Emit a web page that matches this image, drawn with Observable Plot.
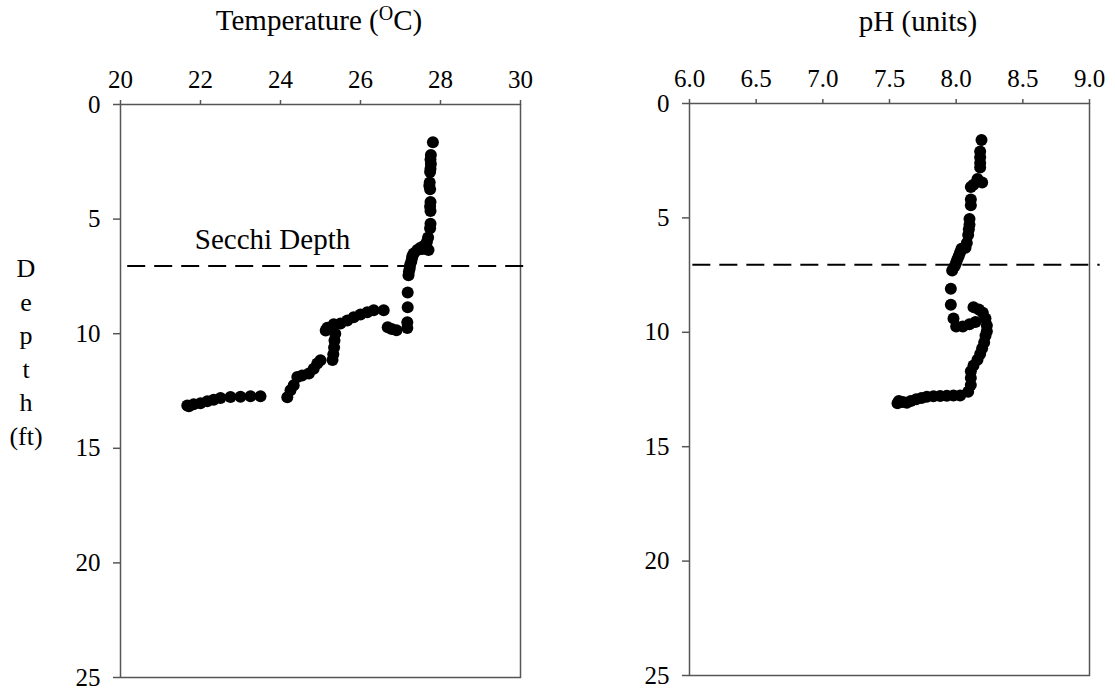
<!DOCTYPE html>
<html>
<head>
<meta charset="utf-8">
<script src="https://cdn.jsdelivr.net/npm/d3@7"></script>
<script src="https://cdn.jsdelivr.net/npm/@observablehq/plot@0.6"></script>
<style>
  body { margin: 0; background: #fff; }
  #wrap { position: relative; width: 1115px; height: 693px; overflow: hidden; background: #fff; }
  #wrap > svg, #wrap > figure { position: absolute; top: 0; margin: 0; }
  #wrap svg, #wrap svg text { font-family: 'Liberation Serif', 'Times New Roman', serif !important; }
</style>
</head>
<body>
<div id="wrap"></div>
<script>
// ---------- data ----------
const tempTicks = [20, 22, 24, 26, 28, 30];
const phTicks = [6.0, 6.5, 7.0, 7.5, 8.0, 8.5, 9.0];
const depthTicks = [0, 5, 10, 15, 20, 25];
const secchiDepth = 7.05;
const secchiLabel = "Secchi Depth";

// temperature profile: depth (ft), temperature (°C)
const tempDepth = [
  1.65, 2.2, 2.4, 2.6, 2.8, 2.95, 3.4, 3.55, 3.7, 4.25, 4.45, 4.65, 5.2, 5.4, 5.8, 6.0,
  6.15, 6.3, 6.35, 6.25, 6.35, 6.5, 6.6, 6.7, 6.85, 7.0, 7.15, 7.3, 7.45, 8.2, 8.85, 9.5, 9.75,
  9.72, 9.8, 9.85,
  8.98, 8.98, 9.06, 9.16, 9.28, 9.42, 9.56, 9.59, 9.74, 9.86,
  10.0, 10.3, 10.6, 10.9, 11.15, 11.16, 11.3, 11.53, 11.74, 11.82, 11.89,
  12.25, 12.47, 12.77,
  12.73, 12.73, 12.75, 12.76, 12.81, 12.88, 12.95, 13.03, 13.08, 13.17, 13.13
];
const tempValue = [
  27.81, 27.76, 27.75, 27.76, 27.75, 27.74, 27.73, 27.72, 27.74, 27.75, 27.74, 27.75, 27.75, 27.74, 27.69, 27.66,
  27.6, 27.55, 27.7, 27.5, 27.42, 27.33, 27.3, 27.29, 27.27, 27.24, 27.23, 27.21, 27.2, 27.18, 27.18, 27.17, 27.17,
  26.68, 26.78, 26.9,
  26.58, 26.33, 26.17, 26.0, 25.83, 25.67, 25.5, 25.33, 25.17, 25.13,
  25.37, 25.35, 25.34, 25.32, 25.3, 25.0, 24.92, 24.83, 24.71, 24.54, 24.42,
  24.33, 24.25, 24.17,
  23.5, 23.25, 23.0, 22.75, 22.5, 22.33, 22.17, 22.0, 21.83, 21.71, 21.67
];

// pH profile: depth (ft), pH (units)
const phDepth = [
  1.6, 2.1, 2.35, 2.6, 2.8, 3.3, 3.45, 3.55, 3.65, 4.2, 4.45, 5.05, 5.3, 5.5, 5.75, 6.1,
  6.3, 6.35, 6.5, 6.65, 6.8, 6.95, 7.1, 7.3, 8.1, 8.8, 9.4, 9.75, 9.75, 9.65, 9.55,
  8.9, 9.0, 9.15, 9.4, 9.7, 9.95,
  10.15, 10.45, 10.7, 10.95, 11.2, 11.45, 11.7, 12.0, 12.3, 12.6,
  12.76, 12.76, 12.77, 12.78, 12.8, 12.82, 12.87, 12.93, 13.0, 13.08, 13.05, 13.0, 13.1
];
const phValue = [
  8.19, 8.18, 8.18, 8.18, 8.18, 8.16, 8.195, 8.13, 8.11, 8.11, 8.11, 8.10, 8.10, 8.095, 8.09, 8.08,
  8.07, 8.04, 8.03, 8.02, 8.01, 8.0, 7.99, 7.97, 7.96, 7.96, 7.98, 8.0, 8.05, 8.1, 8.145,
  8.13, 8.17, 8.2, 8.22, 8.23, 8.23,
  8.22, 8.21, 8.195, 8.18, 8.16, 8.13, 8.11, 8.11, 8.11, 8.09,
  8.03, 7.98, 7.93, 7.88, 7.83, 7.78, 7.74, 7.70, 7.66, 7.63, 7.6, 7.57, 7.56
];

const tempData = tempDepth.map((d, i) => ({depth: d, value: tempValue[i]}));
const phData = phDepth.map((d, i) => ({depth: d, value: phValue[i]}));

const FONT = "'Liberation Serif', 'Times New Roman', serif";
const AXIS = "#555";

function panel({data, xDomain, xTicks, xFormat, width, marginLeft, marginRight, marginTop, marginBottom, dashX, label}) {
  const marks = [
    Plot.frame({stroke: AXIS, strokeWidth: 1.5}),
    Plot.axisX({anchor: "top", ticks: xTicks, tickFormat: xFormat, tickSize: 5, tickPadding: 12,
      stroke: AXIS, strokeWidth: 1.5, fill: "black", fontSize: 25, fontFamily: FONT, label: null}),
    Plot.axisY({anchor: "left", ticks: depthTicks, tickSize: 7, tickPadding: 13,
      stroke: AXIS, strokeWidth: 1.5, fill: "black", fontSize: 25, fontFamily: FONT, label: null}),
    Plot.ruleY([secchiDepth], {x1: dashX[0], x2: dashX[1], stroke: "black", strokeWidth: 2, strokeDasharray: "18,9", clip: false}),
    Plot.dot(data, {x: "value", y: "depth", r: 6, fill: "black", stroke: "none"})
  ];
  if (label) marks.push(Plot.text([label], {x: label.x, y: label.y, text: d => d.text, fontSize: 29, fontFamily: FONT, fill: "black", textAnchor: "middle"}));
  return Plot.plot({
    width, height: 693, marginLeft, marginRight, marginTop, marginBottom,
    style: {fontFamily: FONT, fontSize: "25px", color: "black", background: "transparent", overflow: "visible"},
    x: {domain: xDomain, axis: null},
    y: {domain: [0, 25], reverse: true, axis: null},
    marks
  });
}

const wrap = document.getElementById("wrap");

const left = panel({
  data: tempData, xDomain: [20, 30], xTicks: tempTicks, xFormat: d => String(d),
  width: 557, marginLeft: 120, marginRight: 37, marginTop: 104, marginBottom: 16,
  dashX: [20.18, 30.25],
  label: {x: 23.8, y: 5.89, text: secchiLabel}
});
left.style.left = "0px";
wrap.appendChild(left);

const right = panel({
  data: phData, xDomain: [6, 9], xTicks: phTicks, xFormat: d => d.toFixed(1),
  width: 558, marginLeft: 132, marginRight: 26, marginTop: 103, marginBottom: 18,
  dashX: [6.025, 9.08]
});
right.style.left = "557px";
wrap.appendChild(right);

// titles and vertical depth label
const ns = "http://www.w3.org/2000/svg";
const over = document.createElementNS(ns, "svg");
over.setAttribute("width", 1115); over.setAttribute("height", 693);
over.style.position = "absolute"; over.style.left = "0px"; over.style.top = "0px";
over.style.pointerEvents = "none";
over.setAttribute("font-family", FONT);
over.innerHTML = `
  <text x="319" y="30" font-size="29" text-anchor="middle">Temperature (<tspan font-size="20" dy="-10">O</tspan><tspan dy="10">C)</tspan></text>
  <text x="918" y="31" font-size="29" text-anchor="middle">pH (units)</text>
  ${["D","e","p","t","h","(ft)"].map((t, i) => `<text x="26" y="${277 + i * 33.6}" font-size="26" text-anchor="middle">${t}</text>`).join("")}
`;
wrap.appendChild(over);
</script>
</body>
</html>
